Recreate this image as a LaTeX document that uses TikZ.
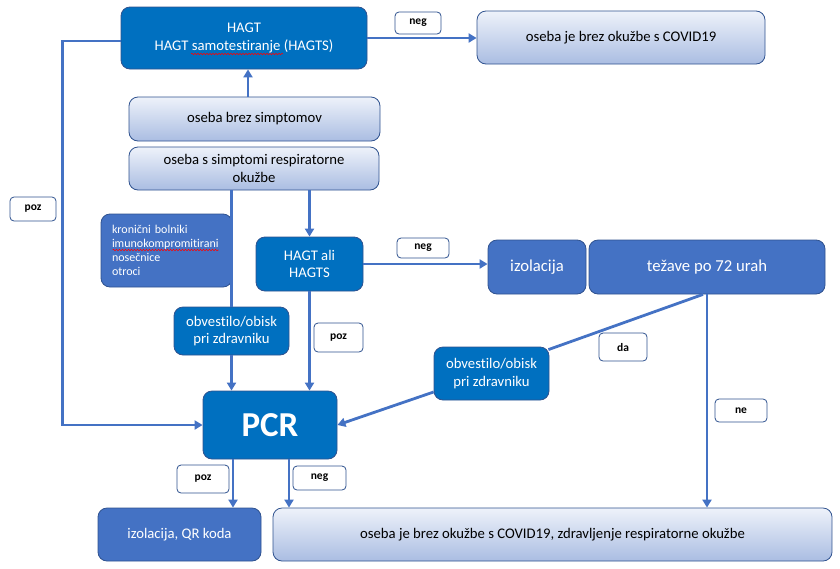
\documentclass[tikz,border=0pt]{standalone}
\usepackage{fontspec}
\setmainfont{Carlito}[Ligatures={NoCommon}]
\usetikzlibrary{arrows.meta,calc,decorations.pathmorphing}
\definecolor{dblue}{HTML}{0070C0}
\definecolor{mblue}{HTML}{4472C4}
\definecolor{edgeb}{HTML}{2F528F}
\definecolor{lighttop}{HTML}{EEF2FA}
\definecolor{lightbot}{HTML}{AABDE2}
\tikzset{
 basebox/.style={rounded corners=9pt, draw=edgeb, line width=0.8pt, align=center, inner sep=2pt, font=\fontsize{14.7}{17.5}\selectfont},
 darkbox/.style={basebox, fill=dblue, text=white},
 medbox/.style={basebox, fill=mblue, text=white},
 lightbox/.style={basebox, top color=lighttop, bottom color=lightbot, text=black},
 labbox/.style={draw=edgeb, fill=white, rounded corners=4pt, line width=0.8pt, font=\bfseries\fontsize{11.5}{13}\selectfont, inner sep=0pt},
 conn/.style={draw=mblue, line width=2.8pt},
 arr/.style={conn, -{Triangle[length=8pt,width=9pt]}},
 spell/.style={draw=red, line width=0.6pt, decorate, decoration={snake, segment length=3pt, amplitude=0.7pt}},
}
\begin{document}
\begin{tikzpicture}[x=1pt,y=-1pt]
\useasboundingbox (0,0) rectangle (840,568);
% nodes
\node[darkbox, minimum width=246pt, minimum height=62pt] (hagt) at (244,38) {HAGT\\HAGT samotestiranje (HAGTS)};
\node[lightbox, minimum width=288pt, minimum height=53pt] (cov1) at (621,37.5) {oseba je brez okužbe s COVID19};
\node[lightbox, minimum width=251pt, minimum height=44pt] (bsimp) at (254.5,119) {oseba brez simptomov};
\node[lightbox, minimum width=250pt, minimum height=43pt] (ssimp) at (254,168.5) {oseba s simptomi respiratorne\\okužbe};
\node[medbox, minimum width=131pt, minimum height=73pt, align=left, text width=109pt, inner xsep=11pt, font=\fontsize{12}{14}\selectfont] (kron) at (166.5,250.5) {kronični bolniki\\imunokompromitirani\\nosečnice\\otroci};
\node[darkbox, minimum width=107pt, minimum height=54pt] (hali) at (309.5,264) {HAGT ali\\HAGTS};
\node[medbox, minimum width=98pt, minimum height=54pt, font=\fontsize{16.7}{19}\selectfont] (izol) at (537,267) {izolacija};
\node[medbox, minimum width=236pt, minimum height=54pt, font=\fontsize{16.7}{19}\selectfont] (tez) at (707,267) {težave po 72 urah};
\node[darkbox, minimum width=115pt, minimum height=48pt] (obv1) at (231.5,331) {obvestilo/obisk\\pri zdravniku};
\node[darkbox, minimum width=115pt, minimum height=53pt] (obv2) at (491.5,373.5) {obvestilo/obisk\\pri zdravniku};
\node[darkbox, minimum width=134pt, minimum height=68pt, font=\bfseries\fontsize{35}{40}\selectfont] (pcr) at (270,425) {PCR};
\node[medbox, minimum width=163pt, minimum height=53pt] (izqr) at (179.5,534.5) {izolacija, QR koda};
\node[lightbox, minimum width=559pt, minimum height=53pt] (cov2) at (552.5,534.5) {oseba je brez okužbe s COVID19, zdravljenje respiratorne okužbe};
% spell-check marks
\draw[spell] ($(hagt.center)+(-53,16)$) -- ($(hagt.center)+(39,16)$);
\draw[spell] ($(kron.west)+(12,-0.5)$) -- ($(kron.west)+(118,-0.5)$);
% labels
\node[labbox, minimum width=46pt, minimum height=22pt] (neg1) at (418,23) {neg};
\node[labbox, minimum width=46pt, minimum height=24pt] (poz1) at (33,209) {poz};
\node[labbox, minimum width=52pt, minimum height=20pt] (neg2) at (423,248) {neg};
\node[labbox, minimum width=49pt, minimum height=29pt] (poz2) at (338.5,337.5) {poz};
\node[labbox, minimum width=48pt, minimum height=28pt] (da) at (623,347) {da};
\node[labbox, minimum width=52pt, minimum height=23pt] (ne) at (741,410.5) {ne};
\node[labbox, minimum width=52pt, minimum height=28pt] (poz3) at (203,479) {poz};
\node[labbox, minimum width=53pt, minimum height=24pt] (neg3) at (319.5,478) {neg};
% connectors
\draw[arr] ([xshift=-6.5pt]bsimp.north) -- ([xshift=-6.5pt]bsimp.north |- hagt.south);
\draw[arr] (hagt.east) -- (hagt.east -| cov1.west);
\draw[arr] ([yshift=-3pt]hagt.west) -- ++(-58,0) |- (pcr.west);
\draw[conn] (obv1.north |- ssimp.south) -- (obv1.north);
\draw[arr] (obv1.south) -- (obv1.south |- pcr.north);
\draw[arr] (hali.north |- ssimp.south) -- (hali.north);
\draw[arr] (hali.east) -- (hali.east -| izol.west);
\draw[arr] (hali.south) -- (hali.south |- pcr.north);
\draw[arr] (tez.south) -- (tez.south |- cov2.north);
\draw[conn] ([xshift=-4pt]tez.south) -- ([xshift=-1pt,yshift=-3pt]obv2.north east);
\draw[arr] ([yshift=-18.5pt]obv2.west) -- (pcr.east);
\draw[arr] ([xshift=-37pt]pcr.south) -- ([xshift=-37pt]pcr.south |- izqr.north);
\draw[arr] ([xshift=19pt]pcr.south) -- ([xshift=19pt]pcr.south |- cov2.north);
\end{tikzpicture}
\end{document}
